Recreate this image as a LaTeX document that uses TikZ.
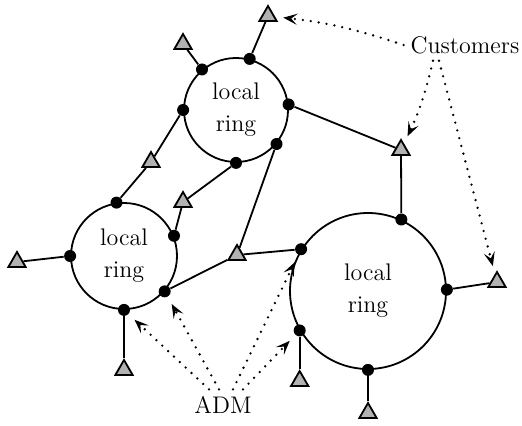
\documentclass[tikz,border=0pt]{standalone}
\usetikzlibrary{shapes.geometric,arrows.meta}
\begin{document}
\begin{tikzpicture}[x=0.5pt,y=-0.5pt]
	\tikzstyle{ring}=[shape=circle,draw,line width=0.9pt,align=center,font=\large,inner sep=0pt]
	\tikzstyle{adm}=[shape=circle,fill=black,minimum size=6pt,inner sep=0pt]
	\tikzstyle{cust}=[regular polygon,regular polygon sides=3,draw,line width=0.9pt,fill=gray!60,minimum size=10pt,inner sep=0pt]
	\tikzstyle{link}=[line width=0.9pt]
	\tikzstyle{pointer}=[line width=1.3pt,dash pattern=on 0pt off 4pt,line cap=round,-{Stealth[length=7pt,width=5.5pt,inset=3pt]},shorten >=4pt]

	\useasboundingbox (0,0) rectangle (522,426);

	%%% rings
	\node (r1) at (236, 110) [ring, minimum size=52pt] {local\\[2pt]ring};
	\node (r2) at (124, 256) [ring, minimum size=53pt] {local\\[2pt]ring};
	\node (r3) at (368, 291) [ring, minimum size=78pt] {local\\[2pt]ring};

	%%% ADMs on the rings
	\node (a1) at (r1.75) [adm] {};
	\node (a2) at (r1.130) [adm] {};
	\node (a3) at (r1.180) [adm] {};
	\node (a4) at (r1.270) [adm] {};
	\node (a5) at (r1.6) [adm] {};
	\node (a6) at (r1.-40) [adm] {};

	\node (b1) at (r2.98) [adm] {};
	\node (b2) at (r2.22) [adm] {};
	\node (b3) at (r2.180) [adm] {};
	\node (b4) at (r2.270) [adm] {};
	\node (b5) at (r2.-41) [adm] {};

	\node (c1) at (r3.65) [adm] {};
	\node (c2) at (r3.1) [adm] {};
	\node (c3) at (r3.270) [adm] {};
	\node (c4) at (r3.148) [adm] {};
	\node (c5) at (r3.210) [adm] {};

	%%% customers
	\node (t1) at (183, 44) [cust] {};
	\node (t2) at (268, 16) [cust] {};
	\node (t3) at (151, 162) [cust] {};
	\node (t4) at (183, 202) [cust] {};
	\node (t5) at (237, 255) [cust] {};
	\node (t6) at (401, 150) [cust] {};
	\node (t7) at (17, 262) [cust] {};
	\node (t8) at (124, 370) [cust] {};
	\node (t9) at (497, 282) [cust] {};
	\node (t10) at (c5 |- 0,381) [cust] {};
	\node (t11) at (368, 413) [cust] {};

	%%% links
	\draw[link] (a2) -- (t1);
	\draw[link] (a1) -- (t2);
	\draw[link] (a3) -- (t3);
	\draw[link] (t3) -- (b1);
	\draw[link] (a4) -- (t4);
	\draw[link] (t4) -- (b2);
	\draw[link] (a6) -- (t5);
	\draw[link] (b5) -- (t5);
	\draw[link] (t5) -- (c4);
	\draw[link] (a5) -- (t6);
	\draw[link] (t6) -- (c1);
	\draw[link] (b3) -- (t7);
	\draw[link] (b4) -- (t8);
	\draw[link] (c2) -- (t9);
	\draw[link] (c5) -- (t10);
	\draw[link] (c3) -- (t11);

	%%% labels
	\node (customers) at (465, 45) [font=\large] {Customers};
	\node (admlabel) at (223, 405) [font=\large] {ADM};

	\draw[pointer] (customers.west) to[bend right=6] (t2);
	\draw[pointer] ([xshift=-16pt]customers.south) to[bend left=6] (t6);
	\draw[pointer] ([xshift=-13pt]customers.south) -- (t9);

	\draw[pointer] ([xshift=-7pt]admlabel.north) -- (b4);
	\draw[pointer] ([xshift=-2pt]admlabel.north) -- (b5);
	\draw[pointer] ([xshift=5pt]admlabel.north) -- (c4);
	\draw[pointer] ([xshift=10pt]admlabel.north) -- (c5);
\end{tikzpicture}
\end{document}
